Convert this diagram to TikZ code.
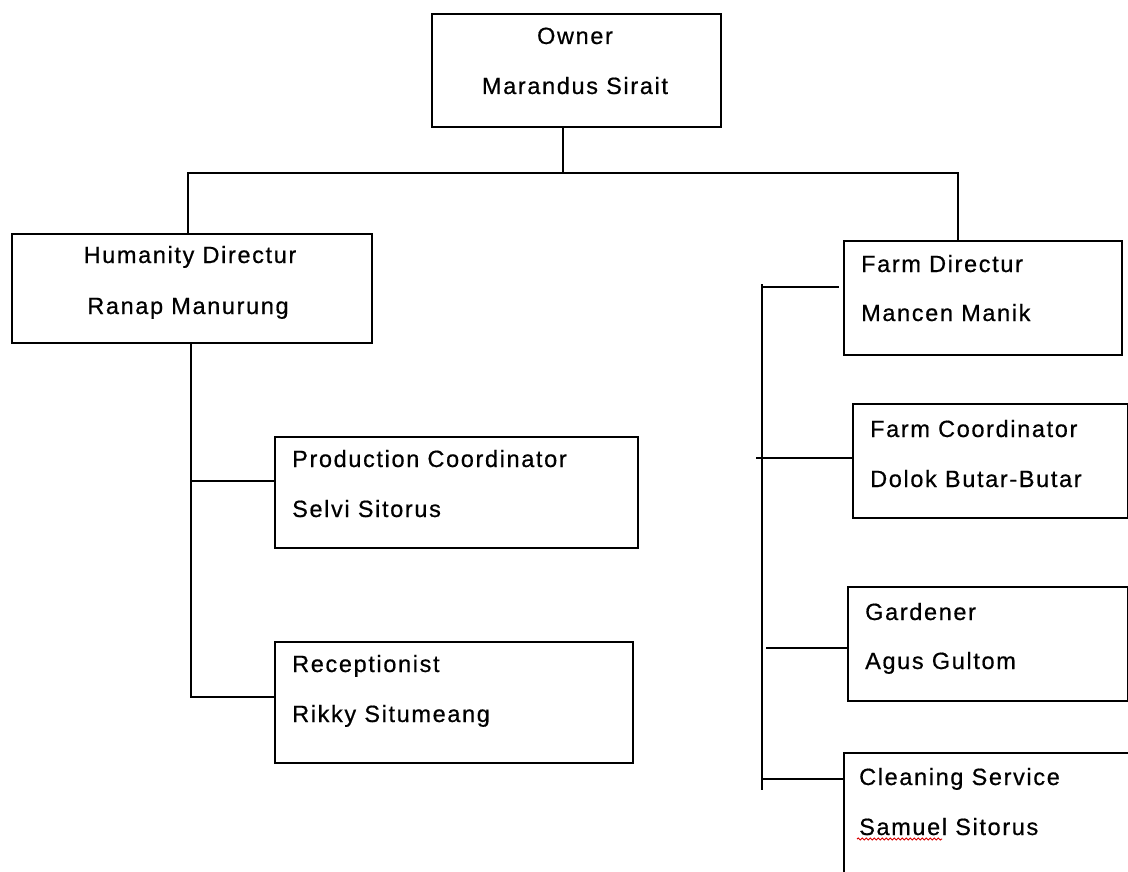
\documentclass[tikz,border=0pt]{standalone}
\usepackage{fontspec}
\setmainfont{Liberation Sans}[LetterSpace=7, FakeBold=0.6]
\usetikzlibrary{decorations.pathmorphing}
\tikzset{
  box/.style={draw=black, line width=1.7pt, rectangle, inner sep=0pt, anchor=north west},
  conn/.style={draw=black, line width=1.7pt},
  lbl/.style={inner sep=0pt, font=\fontsize{23.5}{28}\selectfont, text=black},
  lt/.style={lbl, anchor=base west},
  ct/.style={lbl, anchor=base},
}
\begin{document}
\begin{tikzpicture}[x=1pt,y=-1pt]
\useasboundingbox (0,0) rectangle (1128,872);
\clip (0,0) rectangle (1128,872);
\fill[white] (0,0) rectangle (1128,872);

% boxes
\node[box, minimum width=289pt, minimum height=113pt] (owner) at (431,13) {};
\node[box, minimum width=360pt, minimum height=109pt] (hum) at (11,233) {};
\node[box, minimum width=278pt, minimum height=114pt] (farmdir) at (843,240) {};
\node[box, minimum width=275pt, minimum height=114pt] (farmcoord) at (852,403) {};
\node[box, minimum width=280pt, minimum height=114pt] (gardener) at (847,586) {};
\node[box, minimum width=320pt, minimum height=160pt] (cleaning) at (843,752) {};
\node[box, minimum width=363pt, minimum height=111pt] (prod) at (274,436) {};
\node[box, minimum width=358pt, minimum height=121pt] (recep) at (274,641) {};

% texts
\node[ct] (t-owner1) at (575,44) {Owner};
\node[ct] (t-owner2) at (575,94) {Marandus Sirait};
\node[ct] (t-hum1) at (190,263) {Humanity Directur};
\node[ct] (t-hum2) at (188,314) {Ranap Manurung};
\node[lt] (t-fd1) at (861,272) {Farm Directur};
\node[lt] (t-fd2) at (861,321) {Mancen Manik};
\node[lt] (t-fc1) at (870,437) {Farm Coordinator};
\node[lt] (t-fc2) at (870,487) {Dolok Butar-Butar};
\node[lt] (t-g1) at (865,620) {Gardener};
\node[lt] (t-g2) at (865,669) {Agus Gultom};
\node[lt] (t-c1) at (859,785) {Cleaning Service};
\node[lt] (t-c2) at (859,835) {Samuel Sitorus};
\node[lt] (t-p1) at (292,467) {Production Coordinator};
\node[lt] (t-p2) at (292,517) {Selvi Sitorus};
\node[lt] (t-r1) at (292,672) {Receptionist};
\node[lt] (t-r2) at (292,722) {Rikky Situmeang};

% spell-check underline
\draw[red!85!black, line width=1pt, decorate, decoration={snake, amplitude=1pt, segment length=4pt}] (857,839) -- (942,839);

% connector junctions
\coordinate (tm) at (563,173);
\coordinate (tl) at (188,173);
\coordinate (tr) at (958,173);
\coordinate (lp) at (191,481);
\coordinate (lv) at (191,697);
\coordinate (rtop) at (762,284);
\coordinate (rbot) at (762,790);
\coordinate (fd) at (762,287);
\coordinate (fdend) at (839,287);
\coordinate (fc) at (756,458);
\coordinate (g) at (766,648);
\coordinate (c) at (762,779);

% connectors
\draw[conn] (owner.south -| tm) -- (tm);
\draw[conn] (hum.north -| tl) -- (tl) -- (tr) -- (farmdir.north -| tr);
\draw[conn] (hum.south -| lv) -- (lv) -- (recep.west |- lv);
\draw[conn] (lp) -- (prod.west |- lp);
\draw[conn] (rtop) -- (rbot);
\draw[conn] (fd) -- (fdend);
\draw[conn] (fc) -- (farmcoord.west |- fc);
\draw[conn] (g) -- (gardener.west |- g);
\draw[conn] (c) -- (cleaning.west |- c);
\end{tikzpicture}
\end{document}
